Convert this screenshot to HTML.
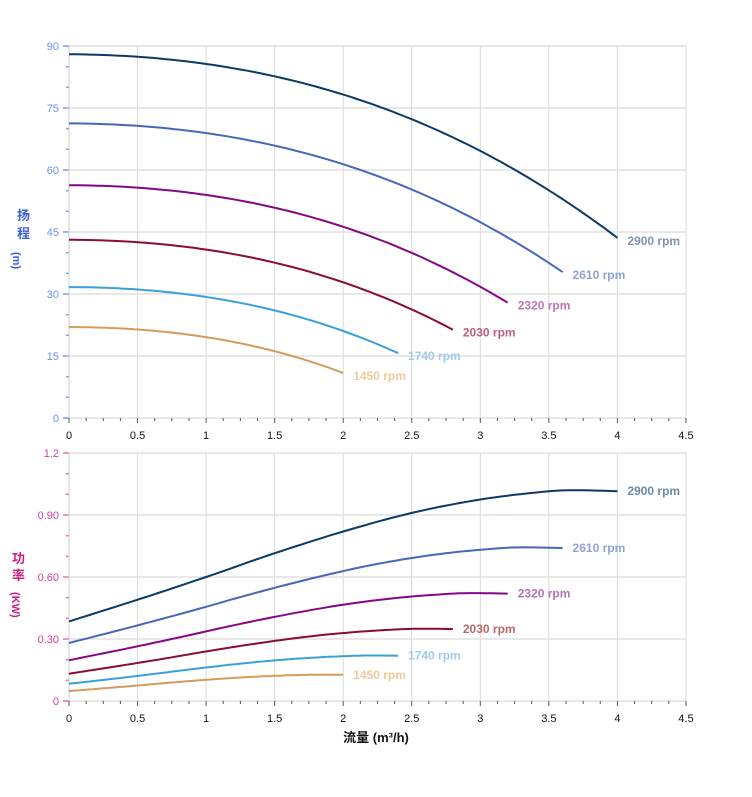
<!DOCTYPE html>
<html><head><meta charset="utf-8"><style>
html,body{margin:0;padding:0;background:#fff;width:752px;height:797px;overflow:hidden}
svg{display:block;font-family:"Liberation Sans","Noto Sans CJK SC",sans-serif}
</style></head><body>
<svg id="s" width="752" height="797" xmlns="http://www.w3.org/2000/svg"></svg>
<script>
const s=document.getElementById('s');let h='';
const X0=69,XS=137.1;
function px(q){return X0+q*XS}
const T0=418,TS=372/90, B0=701,BS=248/1.2;
function ty(v){return T0-v*TS} function by(v){return B0-v*BS}
for(let i=0;i<=9;i++){let x=px(i*0.5);
 h+=`<line x1="${x}" y1="46" x2="${x}" y2="418" stroke="#d8d8d8"/>`;
 h+=`<line x1="${x}" y1="453" x2="${x}" y2="701" stroke="#d8d8d8"/>`;}
for(let v=0;v<=90;v+=15){let y=ty(v);h+=`<line x1="69" y1="${y}" x2="686" y2="${y}" stroke="#e0e0e0" stroke-width="1.5"/>`;
 h+=`<line x1="63" y1="${y}" x2="69" y2="${y}" stroke="#7a9cf0" stroke-width="1.5"/><text x="59" y="${y+4}" font-size="11" fill="#6f8ff0" text-anchor="end">${v}</text>`;}
for(let v=5;v<90;v+=5){if(v%15){let y=ty(v);h+=`<line x1="66" y1="${y}" x2="69" y2="${y}" stroke="#7a9cf0" stroke-width="1.5"/>`;}}
const bl=['0','0.30','0.60','0.90','1.2'];
for(let i=0;i<=4;i++){let y=by(i*0.3);h+=`<line x1="69" y1="${y}" x2="686" y2="${y}" stroke="#e0e0e0" stroke-width="1.5"/>`;
 h+=`<line x1="63" y1="${y}" x2="69" y2="${y}" stroke="#e070b0" stroke-width="1.5"/><text x="59" y="${y+4}" font-size="11" fill="#d0409a" text-anchor="end">${bl[i]}</text>`;}
for(let i=1;i<12;i++){if(i%3){let y=by(i*0.1);h+=`<line x1="66" y1="${y}" x2="69" y2="${y}" stroke="#e070b0" stroke-width="1.5"/>`;}}
h+=`<line x1="69" y1="46" x2="69" y2="418" stroke="#ccc"/><line x1="69" y1="453" x2="69" y2="701" stroke="#ccc"/>`;
for(let i=0;i<=36;i++){let x=px(i*0.125);let L=i%4==0?5:3;
 h+=`<line x1="${x}" y1="418" x2="${x}" y2="${418+L}" stroke="#555"/><line x1="${x}" y1="701" x2="${x}" y2="${701+L}" stroke="#555"/>`;}
for(let i=0;i<=9;i++){let x=px(i*0.5),t=(i*0.5).toString();
 h+=`<text x="${x}" y="439" font-size="11" text-anchor="middle" fill="#111">${t}</text><text x="${x}" y="722" font-size="11" text-anchor="middle" fill="#111">${t}</text>`;}
h+=`<text x="17" y="220" font-size="13" fill="#3a60d8" font-weight="bold">扬</text><text x="17" y="238" font-size="13" fill="#3a60d8" font-weight="bold">程</text><text transform="translate(13,252) rotate(90)" font-size="11" fill="#3a60d8" font-weight="bold">(m)</text>`;
h+=`<text x="12" y="563" font-size="13" fill="#cc2080" font-weight="bold">功</text><text x="12" y="580" font-size="13" fill="#cc2080" font-weight="bold">率</text><text transform="translate(12,592) rotate(90)" font-size="11" fill="#cc2080" font-weight="bold">(KW)</text>`;
h+=`<text x="376" y="742" font-size="13" font-weight="bold" text-anchor="middle" fill="#111">流量 (m³/h)</text>`;
const ser=[[2900,'#0b3a66','#7e93ad','#6a8aa3'],[2610,'#4668b8','#8ea3d3','#8ea3d3'],[2320,'#860786','#c274b8','#b472b8'],[2030,'#8a0c30','#c0607a','#b86a6a'],[1740,'#3aa0dc','#9ecbea','#9ecbea'],[1450,'#d69a5c','#f0ca9e','#f0ca9e']];
const P=[[0,.385],[.5,.49],[1,.6],[1.5,.715],[2,.82],[2.5,.91],[3,.975],[3.5,1.015],[3.7,1.02],[4,1.015]];
function f(x){for(let i=0;i<P.length-1;i++){if(x<=P[i+1][0]){let a=P[Math.max(i-1,0)],b=P[i],c=P[i+1],d=P[Math.min(i+2,P.length-1)];let t=(x-b[0])/(c[0]-b[0]);
 let m1=(c[1]-a[1])/((c[0]-a[0])||1),m2=(d[1]-b[1])/((d[0]-b[0])||1);let hh=c[0]-b[0];let t2=t*t,t3=t2*t;
 return (2*t3-3*t2+1)*b[1]+(t3-2*t2+t)*hh*m1+(-2*t3+3*t2)*c[1]+(t3-t2)*hh*m2;}}return P[P.length-1][1];}
function HH(r,q){return r*r*88-0.2*r*q-1.95*q*q-0.194*q*q*q/r;}
for(const [n,c,lc1,lc2] of ser){let r=n/2900,qe=4*r;let a='',b='';
 for(let k=0;k<=80;k++){let q=qe*k/80;let H=HH(r,q);let W=r*r*r*f(q/r);
  a+=(k?'L':'M')+px(q).toFixed(1)+','+ty(H).toFixed(1);b+=(k?'L':'M')+px(q).toFixed(1)+','+by(W).toFixed(1);}
 h+=`<path d="${a}" fill="none" stroke="${c}" stroke-width="2"/><path d="${b}" fill="none" stroke="${c}" stroke-width="2"/>`;
 let He=HH(r,qe),We=r*r*r*f(4);
 h+=`<text x="${px(qe)+10}" y="${ty(He)+7}" font-size="12" font-weight="bold" fill="${lc1}">${n} rpm</text>`;
 h+=`<text x="${px(qe)+10}" y="${by(We)+4}" font-size="12" font-weight="bold" fill="${lc2}">${n} rpm</text>`;}
s.innerHTML=h;
</script>
</body></html>
